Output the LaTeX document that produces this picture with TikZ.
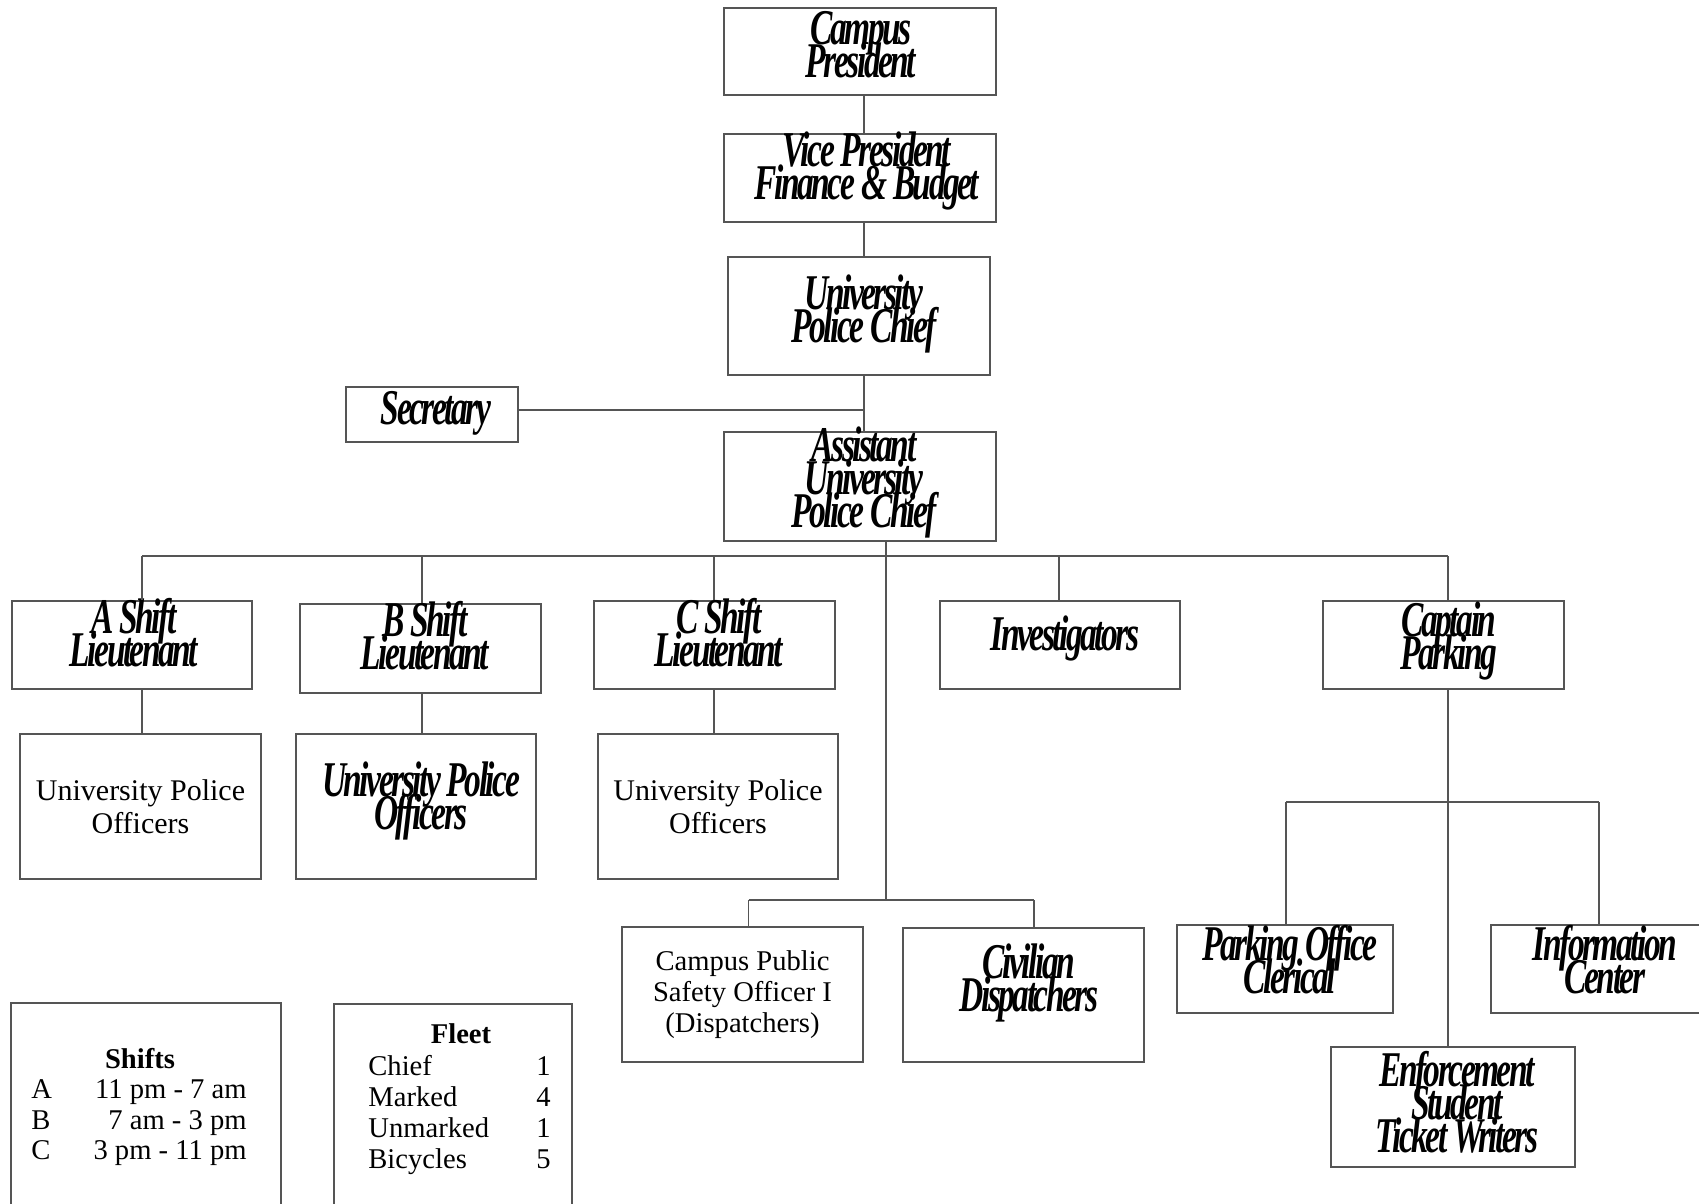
\documentclass[tikz,border=0pt]{standalone}
\usepackage{fontspec}
\setmainfont{Liberation Serif}
\newfontfamily\sqfont[FakeStretch=0.67,LetterSpace=-5]{Liberation Serif}
\usetikzlibrary{fit,calc}
\definecolor{linegray}{RGB}{85,85,85}
\begin{document}
\begin{tikzpicture}[x=0.5pt,y=-0.5pt,
  box/.style={draw=linegray,line width=0.75pt,rectangle,inner sep=0pt},
  conn/.style={draw=linegray,line width=0.7pt},
  head/.style={font={\sqfont\bfseries\itshape\fontsize{25}{16.5}\selectfont\lineskiplimit=-100pt\lineskip=0pt},align=center,inner sep=0pt},
  body/.style={font={\fontsize{15}{16.5}\selectfont},align=center,inner sep=0pt},
  small/.style={font={\fontsize{14.3}{15.5}\selectfont},align=center,inner sep=0pt},
  leg/.style={font={\fontsize{14.3}{15.5}\selectfont},inner sep=0pt},
  legb/.style={font={\fontsize{14.3}{15.5}\selectfont\bfseries},inner sep=0pt}]
\clip (0,0) rectangle (1699,1204);
\fill[white] (0,0) rectangle (1699,1204);

% boxes
\node[box,fit={(724,8)(996,95)}] (pres) {};
\node[box,fit={(724,134)(996,222)}] (vp) {};
\node[box,fit={(728,257)(990,375)}] (chief) {};
\node[box,fit={(346,387)(518,442)}] (sec) {};
\node[box,fit={(724,432)(996,541)}] (asst) {};
\node[box,fit={(12,601)(252,689)}] (alt) {};
\node[box,fit={(300,604)(541,693)}] (blt) {};
\node[box,fit={(594,601)(835,689)}] (clt) {};
\node[box,fit={(940,601)(1180,689)}] (inv) {};
\node[box,fit={(1323,601)(1564,689)}] (cap) {};
\node[box,fit={(20,734)(261,879)}] (aoff) {};
\node[box,fit={(296,734)(536,879)}] (boff) {};
\node[box,fit={(598,734)(838,879)}] (coff) {};
\node[box,fit={(622,927)(863,1062)}] (cps) {};
\node[box,fit={(903,928)(1144,1062)}] (civ) {};
\node[box,fit={(1177,925)(1393,1013)}] (poc) {};
\node[box,fit={(1491,925)(1712,1013)}] (info) {};
\node[box,fit={(1331,1047)(1575,1167)}] (enf) {};
\node[box,fit={(11,1003)(281,1215)}] (shiftbox) {};
\node[box,fit={(334,1004)(572,1215)}] (fleetbox) {};

% heading texts
\node[head] (tpres) at (861,45) {Campus\\President};
\node[head] (tvp) at (867,171) {Vice President\\Finance \& Budget};
\node[head] (tchief) at (864,314) {University\\Police Chief};
\node[head] (tsec) at (436,413) {Secretary};
\node[head] (tasst) at (864,482) {Assistant\\University\\Police Chief};
\node[head] (talt) at (134,633) {A Shift\\Lieutenant};
\node[head] (tblt) at (425,636) {B Shift\\Lieutenant};
\node[head] (tclt) at (719,633) {C Shift\\Lieutenant};
\node[head] (tinv) at (1065,638) {Investigators};
\node[head] (tcap) at (1449,641) {Captain\\Parking};
\node[head] (tboff) at (421,801) {University Police\\Officers};
\node[head] (tciv) at (1029,983) {Civilian\\Dispatchers};
\node[head] (tpoc) at (1290,960) {Parking Office\\Clerical};
\node[head] (tinfo) at (1605,960) {Information\\Center};
\node[head] (tenf) at (1457,1102) {Enforcement\\Student\\Ticket Writers};

% plain texts
\node[body] (taoff) at (aoff.center) {University Police\\Officers};
\node[body] (tcoff) at (coff.center) {University Police\\Officers};
\node[small] (tcps) at (cps.center) {Campus Public\\Safety Officer I\\(Dispatchers)};

% legends
\node[legb,anchor=base] (lsh) at (140,1068) {Shifts};
\node[leg,anchor=base west] (la) at (31,1098.5) {A};
\node[leg,anchor=base west] (lb) at (31,1129) {B};
\node[leg,anchor=base west] (lc) at (31,1159.5) {C};
\node[leg,anchor=base east] (lat) at (247,1098.5) {11 pm - 7 am};
\node[leg,anchor=base east] (lbt) at (247,1129) {7 am - 3 pm};
\node[leg,anchor=base east] (lct) at (247,1159.5) {3 pm - 11 pm};
\node[legb,anchor=base] (lfl) at (461,1043) {Fleet};
\node[leg,anchor=base west] (f1) at (368,1075) {Chief};
\node[leg,anchor=base west] (f2) at (368,1106) {Marked};
\node[leg,anchor=base west] (f3) at (368,1137) {Unmarked};
\node[leg,anchor=base west] (f4) at (368,1168) {Bicycles};
\node[leg,anchor=base east] (n1) at (551,1075) {1};
\node[leg,anchor=base east] (n2) at (551,1106) {4};
\node[leg,anchor=base east] (n3) at (551,1137) {1};
\node[leg,anchor=base east] (n4) at (551,1168) {5};

% connector coordinates
\coordinate (vx) at (864,0);
\coordinate (secy) at (0,410);
\coordinate (dA) at (142,556);
\coordinate (dB) at (422,556);
\coordinate (dC) at (714,556);
\coordinate (dI) at (1059,556);
\coordinate (dP) at (1448,556);
\coordinate (dX) at (886,900);
\coordinate (dD1) at (748.5,900);
\coordinate (dD2) at (1034,900);
\coordinate (pL) at (1286,802);
\coordinate (pR) at (1599,802);

% connectors
\draw[conn] (pres.south -| vx) -- (vp.north -| vx);
\draw[conn] (vp.south -| vx) -- (chief.north -| vx);
\draw[conn] (chief.south -| vx) -- (asst.north -| vx);
\draw[conn] (sec.east |- secy) -- (vx |- secy);
\draw[conn] (dA) -- (dP);
\draw[conn] (dA) -- (alt.north -| dA);
\draw[conn] (dB) -- (blt.north -| dB);
\draw[conn] (dC) -- (clt.north -| dC);
\draw[conn] (dI) -- (inv.north -| dI);
\draw[conn] (dP) -- (cap.north -| dP);
\draw[conn] (alt.south -| dA) -- (aoff.north -| dA);
\draw[conn] (blt.south -| dB) -- (boff.north -| dB);
\draw[conn] (clt.south -| dC) -- (coff.north -| dC);
\draw[conn] (asst.south -| dX) -- (dX);
\draw[conn] (dD1) -- (dD2);
\draw[conn] (dD1) -- (cps.north -| dD1);
\draw[conn] (dD2) -- (civ.north -| dD2);
\draw[conn] (cap.south -| dP) -- (enf.north -| dP);
\draw[conn] (pL) -- (pR);
\draw[conn] (pL) -- (poc.north -| pL);
\draw[conn] (pR) -- (info.north -| pR);
\end{tikzpicture}
\end{document}
